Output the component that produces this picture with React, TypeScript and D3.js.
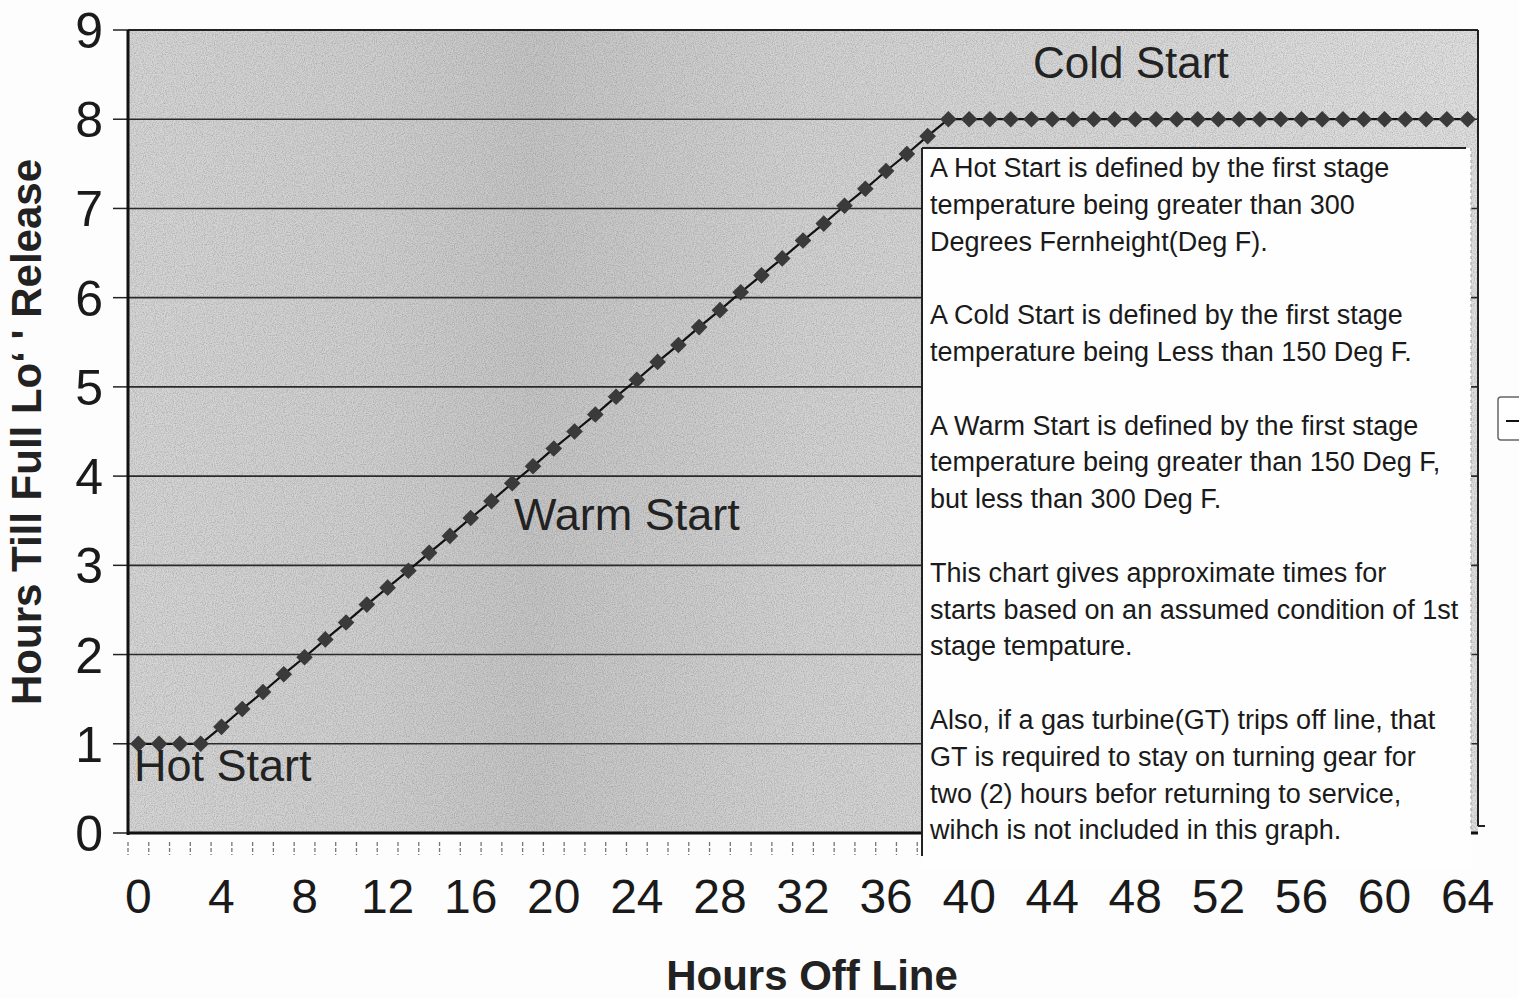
import React from 'react'
import * as d3 from 'd3'

// hours off line (category axis, one point per hour)
const hours = [
  0, 1, 2, 3, 4, 5, 6, 7, 8, 9, 10, 11, 12, 13, 14, 15, 16, 17, 18, 19, 20,
  21, 22, 23, 24, 25, 26, 27, 28, 29, 30, 31, 32, 33, 34, 35, 36, 37, 38, 39,
  40, 41, 42, 43, 44, 45, 46, 47, 48, 49, 50, 51, 52, 53, 54, 55, 56, 57, 58,
  59, 60, 61, 62, 63, 64,
]

// hours till full load release
const releaseHours = [
  1, 1, 1, 1, 1.19, 1.39, 1.58, 1.78, 1.97, 2.17, 2.36, 2.56, 2.75, 2.94,
  3.14, 3.33, 3.53, 3.72, 3.92, 4.11, 4.31, 4.5, 4.69, 4.89, 5.08, 5.28, 5.47,
  5.67, 5.86, 6.06, 6.25, 6.44, 6.64, 6.83, 7.03, 7.22, 7.42, 7.61, 7.81, 8,
  8, 8, 8, 8, 8, 8, 8, 8, 8, 8, 8, 8, 8, 8, 8, 8, 8, 8, 8, 8, 8, 8, 8, 8, 8,
]

const xTickLabels = [0, 4, 8, 12, 16, 20, 24, 28, 32, 36, 40, 44, 48, 52, 56, 60, 64]
const yTickLabels = [0, 1, 2, 3, 4, 5, 6, 7, 8, 9]

const noteLines = [
  'A Hot Start is defined by the first stage',
  'temperature being greater than 300',
  'Degrees Fernheight(Deg F).',
  '',
  'A Cold Start is defined by the first stage',
  'temperature being Less than 150 Deg F.',
  '',
  'A Warm Start is defined by the first stage',
  'temperature being greater than 150 Deg F,',
  'but less than 300 Deg F.',
  '',
  'This chart gives approximate times for',
  'starts based on an assumed condition of 1st',
  'stage tempature.',
  '',
  'Also, if a gas turbine(GT) trips off line, that',
  'GT is required to stay on turning gear for',
  'two (2) hours befor returning to service,',
  'wihch is not included in this graph.',
]

const FONT = '"Liberation Sans", Arial, sans-serif'

const App = () => {
  const width = 1519
  const height = 999
  const left = 128
  const right = 1478
  const top = 30
  const bottom = 833

  const xBand = d3.scaleBand<number>().domain(hours).range([left, right])
  const xScale = (h: number) => (xBand(h) as number) + xBand.bandwidth() / 2
  const yScale = d3.scaleLinear().domain([0, 9]).range([bottom, top])

  const points = hours.map((h, i) => ({ h, v: releaseHours[i] }))
  const line = d3.line<{ h: number; v: number }>()
    .x(d => xScale(d.h))
    .y(d => yScale(d.v))
  const diamond = d3.symbol().type(d3.symbolSquare).size(138)()

  // box with the notes
  const boxX = 922
  const boxY = 148

  return (
    <svg width={width} height={height} style={{ position: 'absolute', left: 0, top: 0, background: '#fdfdfd' }}
      fontFamily={FONT}>
      <defs>
        <linearGradient id="bg" x1="0" x2="1" y1="0" y2="0">
          <stop offset="0" stopColor="#d6d6d6" />
          <stop offset="0.18" stopColor="#d0d0d0" />
          <stop offset="0.3" stopColor="#c6c6c6" />
          <stop offset="0.5" stopColor="#d3d3d3" />
          <stop offset="0.75" stopColor="#d9d9d9" />
          <stop offset="1" stopColor="#e0e0e0" />
        </linearGradient>
        <filter id="grain" x="0" y="0" width="100%" height="100%">
          <feTurbulence type="fractalNoise" baseFrequency="0.9" numOctaves="2" seed="4" />
          <feColorMatrix type="matrix" values="0 0 0 0 0  0 0 0 0 0  0 0 0 0 0  0 0 0 -1.2 0.75" />
        </filter>
      </defs>

      {/* plot area */}
      <rect x={left} y={top} width={right - left} height={bottom - top} fill="url(#bg)" />
      <rect x={left} y={top} width={right - left} height={bottom - top} filter="url(#grain)" opacity={0.3} />

      {/* gridlines */}
      {yTickLabels.filter(v => v > 0 && v < 9).map(v => (
        <line key={v} x1={left} x2={right} y1={yScale(v)} y2={yScale(v)} stroke="#2a2a2a" strokeWidth={1.6} />
      ))}

      {/* y ticks and labels */}
      {yTickLabels.map(v => (
        <g key={v}>
          <line x1={113} x2={left} y1={yScale(v)} y2={yScale(v)} stroke="#222" strokeWidth={1.5} />
          <text x={103} y={yScale(v)} dy="0.36em" textAnchor="end" fontSize={50} fill="#1a1a1a">{v}</text>
        </g>
      ))}

      {/* x category ticks */}
      {hours.map(h => (
        <line key={h} x1={xBand(h) as number} x2={xBand(h) as number} y1={bottom + 9} y2={bottom + 22}
          stroke="#777" strokeWidth={1.3} strokeDasharray="4 2" />
      ))}

      {/* series */}
      <path d={line(points) ?? ''} fill="none" stroke="#111" strokeWidth={2.2} />
      {points.map(p => (
        <path key={p.h} d={diamond ?? ''} fill="#3a3a3a"
          transform={`translate(${xScale(p.h)},${yScale(p.v)}) rotate(45)`} />
      ))}

      {/* region labels */}
      <text x={1033} y={78} fontSize={44} fill="#222">Cold Start</text>
      <text x={514} y={530} fontSize={45} fill="#222">Warm Start</text>
      <text x={134} y={781} fontSize={45} fill="#222">Hot Start</text>

      {/* plot frame */}
      <line x1={left} x2={right} y1={top} y2={top} stroke="#222" strokeWidth={2} />
      <line x1={left} x2={left} y1={top} y2={bottom + 2} stroke="#111" strokeWidth={3} />
      <line x1={left} x2={right} y1={bottom} y2={bottom} stroke="#111" strokeWidth={3} />

      {/* notes box */}
      <rect x={boxX} y={boxY} width={549} height={720} fill="#fefefe" />
      <line x1={boxX} x2={boxX} y1={boxY} y2={856} stroke="#222" strokeWidth={2} />
      <line x1={boxX} x2={1466} y1={boxY} y2={boxY} stroke="#222" strokeWidth={2} />
      <line x1={1471} x2={1471} y1={boxY} y2={830} stroke="#aaa" strokeWidth={1.2} strokeDasharray="3 3" />
      {noteLines.map((t, i) => (
        <text key={i} x={930} y={177 + i * 36.8} fontSize={27} fill="#1a1a1a">{t}</text>
      ))}

      {/* right frame edge */}
      <line x1={right} x2={right} y1={top} y2={826} stroke="#222" strokeWidth={2} />
      <line x1={right} x2={right + 7} y1={826} y2={826} stroke="#222" strokeWidth={2} />

      {/* x tick labels */}
      {xTickLabels.map(h => (
        <text key={h} x={xScale(h)} y={913} textAnchor="middle" fontSize={48} fill="#1a1a1a">{h}</text>
      ))}

      {/* axis titles */}
      <text x={812} y={990} textAnchor="middle" fontSize={42} fontWeight="bold" fill="#222">Hours Off Line</text>
      <text transform="translate(41,432) rotate(-90)" textAnchor="middle" fontSize={42} fontWeight="bold" fill="#222">
        Hours Till Full Lo‘ ' Release
      </text>

      {/* cut-off legend at the right edge */}
      <rect x={1498} y={397} width={40} height={43} rx={3} fill="#fff" stroke="#666" strokeWidth={1.5} />
      <line x1={1506} x2={width} y1={421} y2={421} stroke="#111" strokeWidth={2} />
    </svg>
  )
}

export default App
